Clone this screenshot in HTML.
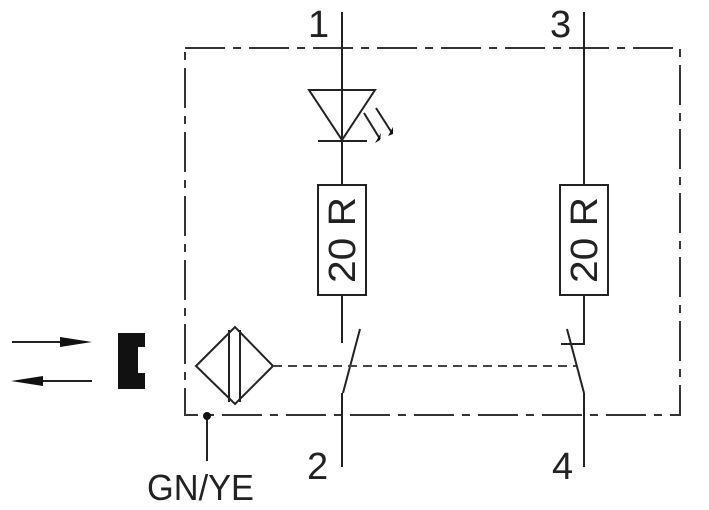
<!DOCTYPE html>
<html><head><style>body{margin:0;background:#fff}svg{display:block}</style></head><body>
<svg width="709" height="510" viewBox="0 0 709 510" xmlns="http://www.w3.org/2000/svg" font-family="Liberation Sans, sans-serif">
<g stroke="#222" stroke-width="2" fill="none">
<rect x="185" y="48" width="495" height="367" stroke-dasharray="40,8,8,8" stroke="#333"/>
<line x1="342" y1="12" x2="342" y2="185"/>
<polygon points="309,90 375,90 342,140"/>
<line x1="318" y1="141" x2="367" y2="141"/>
<rect x="318" y="185" width="48" height="110" fill="#fff"/>
<line x1="342" y1="295" x2="342" y2="343"/>
<line x1="343" y1="393" x2="360" y2="329"/>
<line x1="342" y1="393" x2="342" y2="467"/>
<line x1="584" y1="12" x2="584" y2="185"/>
<rect x="560" y="185" width="48" height="110" fill="#fff"/>
<polyline points="584,295 584,344 561,344"/>
<line x1="567" y1="329" x2="584" y2="393"/>
<line x1="584" y1="393" x2="584" y2="467"/>
<polygon points="196,366 235,327 273,366 235,404"/>
<line x1="229" y1="330" x2="229" y2="402"/>
<line x1="240" y1="330" x2="240" y2="402"/>
<line x1="273" y1="366" x2="576" y2="366" stroke-dasharray="9,6" stroke="#444"/>
<line x1="207" y1="416" x2="207" y2="461"/>
<line x1="12" y1="342" x2="70" y2="342"/>
<line x1="92" y1="381" x2="35" y2="381"/>
<line x1="364" y1="113" x2="380" y2="139"/>
<line x1="376" y1="108" x2="392" y2="133"/>
</g>
<g fill="#111">
<polygon points="92,342 60,337 60,347"/>
<polygon points="11,381 43,376 43,386"/>
<polygon points="375,143 380,140 381,133"/><polygon points="388,136 393,134 393,127"/>
<path d="M118,333 H145 V347 H138 V373 H145 V389 H118 Z"/>
<circle cx="207" cy="416" r="4"/>
</g>
<g fill="#222" font-size="38">
<text x="308" y="37">1</text>
<text x="550" y="37">3</text>
<text x="307" y="479">2</text>
<text x="552" y="479">4</text>
<text x="147" y="500" font-size="36" textLength="107" lengthAdjust="spacingAndGlyphs">GN/YE</text>
<text transform="translate(355,240) rotate(-90)" text-anchor="middle" font-size="38" textLength="86" lengthAdjust="spacingAndGlyphs">20 R</text>
<text transform="translate(597,240) rotate(-90)" text-anchor="middle" font-size="38" textLength="86" lengthAdjust="spacingAndGlyphs">20 R</text>
</g>
</svg>
</body></html>
